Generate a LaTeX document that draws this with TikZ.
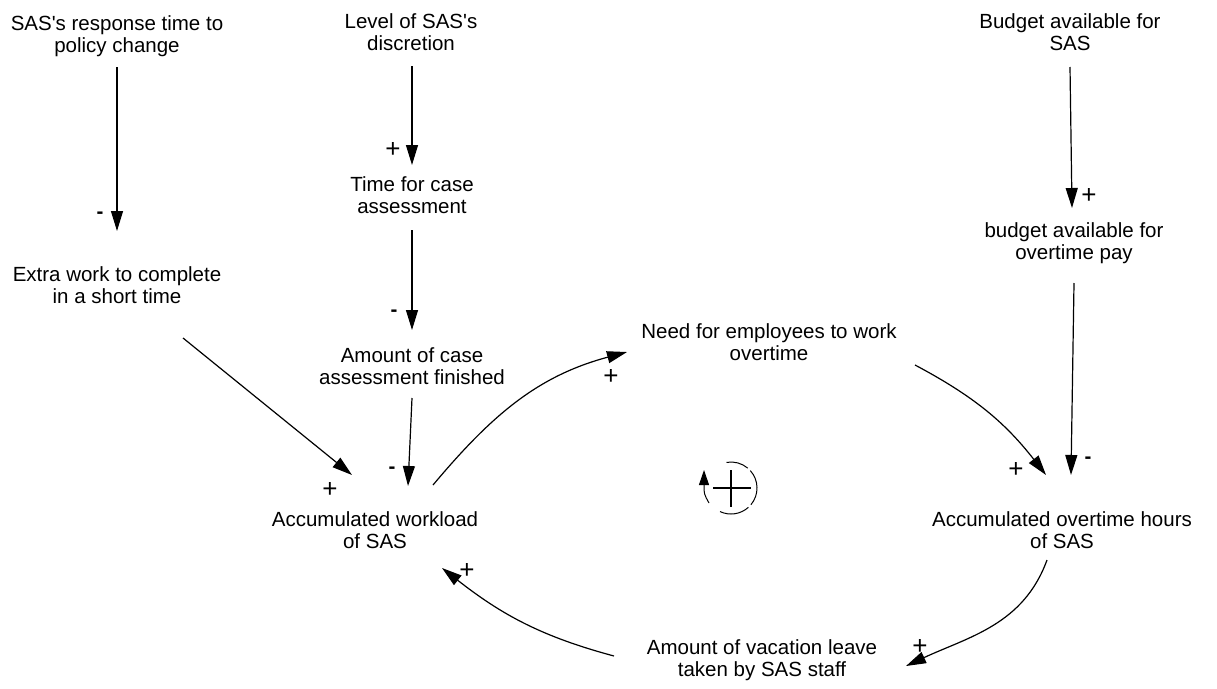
\documentclass[tikz,border=0pt]{standalone}
\usepackage{fontspec}
\setmainfont{Liberation Sans}
\usetikzlibrary{arrows.meta,calc}

\tikzset{
  var/.style={align=center, inner sep=0pt, font=\fontsize{20.5}{22}\selectfont},
  pol/.style={inner sep=0pt, font=\fontsize{26}{26}\selectfont},
  neg/.style={inner sep=0pt, font=\fontsize{20.5}{22}\selectfont\bfseries},
  link/.style={line width=1.2pt, -{Triangle[length=20pt,width=12pt]}},
}

\begin{document}
\begin{tikzpicture}[x=1pt,y=-1pt]
      \useasboundingbox (0,0) rectangle (1217,688);

      % Variables
      \node[var] (resp)     at (117,36)  {SAS\textquotesingle{}s response time to\\policy change};
      \node[var] (disc)     at (411,32)  {Level of SAS\textquotesingle{}s\\discretion};
      \node[var] (budget)   at (1070,32) {Budget available for\\SAS};
      \node[var] (time)     at (412,195) {Time for case\\assessment};
      \node[var] (extra)    at (117,285) {Extra work to complete\\in a short time};
      \node[var] (budot)    at (1074,243) {budget available for\\overtime pay};
      \node[var] (amount)   at (412,366) {Amount of case\\assessment finished};
      \node[var] (need)     at (769,342) {Need for employees to work\\overtime};
      \node[var] (workload) at (375,530) {Accumulated workload\\of SAS};
      \node[var] (overtime) at (1062,530) {Accumulated overtime hours\\of SAS};
      \node[var] (vacation) at (762,660) {Amount of vacation leave\\taken by SAS staff};

      % Straight links
      \draw[link] ($(resp)+(0,31)$) -- ($(extra)+(0,-54)$);
      \draw[link] ($(disc)+(1,34)$) -- ($(time)+(0,-30)$);
      \draw[link] ($(time)+(0,35)$) -- ($(amount)+(0,-36)$);
      \draw[link] ($(amount)+(0,32)$) -- ($(workload)+(33,-44)$);
      \draw[link] ($(extra)+(66,53)$) -- ($(workload)+(-23,-55)$);
      \draw[link] ($(budget)+(0,35)$) -- ($(budot)+(-2,-35)$);
      \draw[link] ($(budot)+(0,40)$) -- ($(overtime)+(9,-55)$);

      % Curved links of the loop
      \draw[link] ($(workload)+(58,-45)$) to[out=50,in=195] ($(need)+(-142,10)$);
      \draw[link] ($(need)+(146,23)$) to[out=-28,in=128] ($(overtime)+(-16,-55)$);
      \draw[link] ($(overtime)+(-15,30)$) to[out=-110,in=25] ($(vacation)+(144,6)$);
      \draw[link] ($(vacation)+(-148,-4)$) to[out=165,in=-38] ($(workload)+(67,38)$);

      % Polarities
      \node[neg] (s1)  at (100,215)  {-};
      \node[pol] (s2)  at (393,150)  {+};
      \node[neg] (s3)  at (394,313)  {-};
      \node[neg] (s4)  at (392,470)  {-};
      \node[pol] (s5)  at (330,490)  {+};
      \node[pol] (s6)  at (1089,196) {+};
      \node[neg] (s7)  at (1088,460) {-};
      \node[pol] (s8)  at (1016,470) {+};
      \node[pol] (s9)  at (611,377)  {+};
      \node[pol] (s10) at (920,647)  {+};
      \node[pol] (s11) at (467,571)  {+};

      % Loop marker
      \coordinate (loop) at (731,488);
      \draw[line width=2pt] ($(loop)+(-18,0)$) -- ($(loop)+(20,0)$);
      \draw[line width=2pt] ($(loop)+(0,-18)$) -- ($(loop)+(0,19)$);
      \draw[line width=1pt] ($(loop)+(-100:26)$) arc[start angle=-100, end angle=-50, radius=26];
      \draw[line width=1pt] ($(loop)+(-42:26)$) arc[start angle=-42, end angle=40, radius=26];
      \draw[line width=1pt] ($(loop)+(48:26)$) arc[start angle=48, end angle=115, radius=26];
      \draw[line width=1pt, -{Triangle[length=15pt,width=10pt]}]
        ($(loop)+(-22,15)$) .. controls ($(loop)+(-27,6)$) .. ($(loop)+(-27,-18)$);
    \end{tikzpicture}
\end{document}
